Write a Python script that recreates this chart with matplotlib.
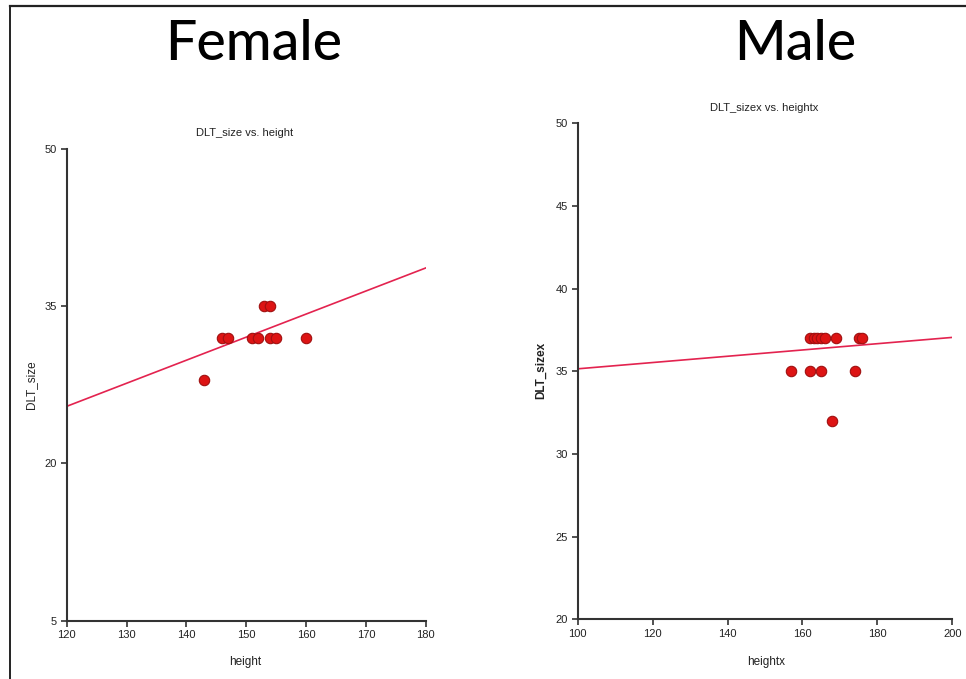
import matplotlib
matplotlib.use("Agg")
import matplotlib.pyplot as plt
from matplotlib.lines import Line2D

# ---- data ----
female_height = [143, 146, 147, 151, 152, 153, 154, 154, 155, 160]
female_dlt = [28, 32, 32, 32, 32, 35, 35, 32, 32, 32]
female_fit_x = [120, 180]
female_fit_y = [25.45, 38.65]
female_xticks = [120, 130, 140, 150, 160, 170, 180]
female_yticks = [5, 20, 35, 50]

male_height = [157, 162, 165, 174, 168, 162, 163, 164, 165, 166, 169, 175, 176]
male_dlt = [35, 35, 35, 35, 32, 37, 37, 37, 37, 37, 37, 37, 37]
male_fit_x = [100, 200]
male_fit_y = [35.15, 37.05]
male_xticks = [100, 120, 140, 160, 180, 200]
male_yticks = [20, 25, 30, 35, 40, 45, 50]

W, H = 966, 679
small = ['Liberation Sans Narrow', 'Liberation Sans', 'DejaVu Sans']
big = ['Lato', 'Open Sans', 'DejaVu Sans']

fig = plt.figure(figsize=(W / 100, H / 100), dpi=100)

# frame lines (top and left only)
fig.add_artist(Line2D([10 / W, 1], [1 - 6 / H, 1 - 6 / H], color='#222222', lw=1.6))
fig.add_artist(Line2D([10 / W, 10 / W], [0, 1 - 6 / H], color='#222222', lw=1.4))


def panel(rect, x, y, fx, fy, xticks, yticks):
    ax = fig.add_axes(rect)
    ax.plot(fx, fy, color='#e3234f', lw=1.2, zorder=2)
    ax.plot(x, y, 'o', ms=7.5, mfc='#dd1414', mec='#a01010', mew=0.8,
            clip_on=False, zorder=3)
    ax.set_xlim(xticks[0], xticks[-1])
    ax.set_ylim(yticks[0], yticks[-1])
    ax.set_xticks(xticks)
    ax.set_yticks(yticks)
    for s in ['top', 'right']:
        ax.spines[s].set_visible(False)
    for s in ['left', 'bottom']:
        ax.spines[s].set_color('#333333')
        ax.spines[s].set_linewidth(1.5)
    ax.tick_params(length=4, width=1.2, color='#333333', labelsize=8, pad=3)
    for lab in ax.get_xticklabels() + ax.get_yticklabels():
        lab.set_family(small)
        lab.set_color('#222222')
    return ax


panel([66.7 / W, 1 - 620.7 / H, 359 / W, 471.7 / H],
      female_height, female_dlt, female_fit_x, female_fit_y,
      female_xticks, female_yticks)
panel([577.7 / W, 1 - 619.3 / H, 374.6 / W, 496 / H],
      male_height, male_dlt, male_fit_x, male_fit_y,
      male_xticks, male_yticks)

# big headings
fig.text(254 / W, 1 - 60 / H, 'Female', fontsize=40, family=big,
         weight='medium', ha='center', va='baseline')
fig.text(795 / W, 1 - 60 / H, 'Male', fontsize=40, family=big,
         weight='medium', ha='center', va='baseline')

# plot titles and axis labels
fig.text(245 / W, 1 - 133 / H, 'DLT_size vs. height', fontsize=8,
         family=small, ha='center', va='center', color='#222222')
fig.text(764 / W, 1 - 108 / H, 'DLT_sizex vs. heightx', fontsize=8,
         family=small, ha='center', va='center', color='#222222')
fig.text(245 / W, 1 - 662 / H, 'height', fontsize=8.5, family=small,
         ha='center', va='center', color='#222222')
fig.text(766 / W, 1 - 662 / H, 'heightx', fontsize=8.5, family=small,
         ha='center', va='center', color='#222222')
fig.text(31 / W, 1 - 385 / H, 'DLT_size', fontsize=8.5, family=small,
         ha='center', va='center', rotation=90, color='#222222')
fig.text(541 / W, 1 - 370 / H, 'DLT_sizex', fontsize=8.5, family=small,
         weight='bold', ha='center', va='center', rotation=90, color='#222222')

fig.savefig('out.png', dpi=100)
